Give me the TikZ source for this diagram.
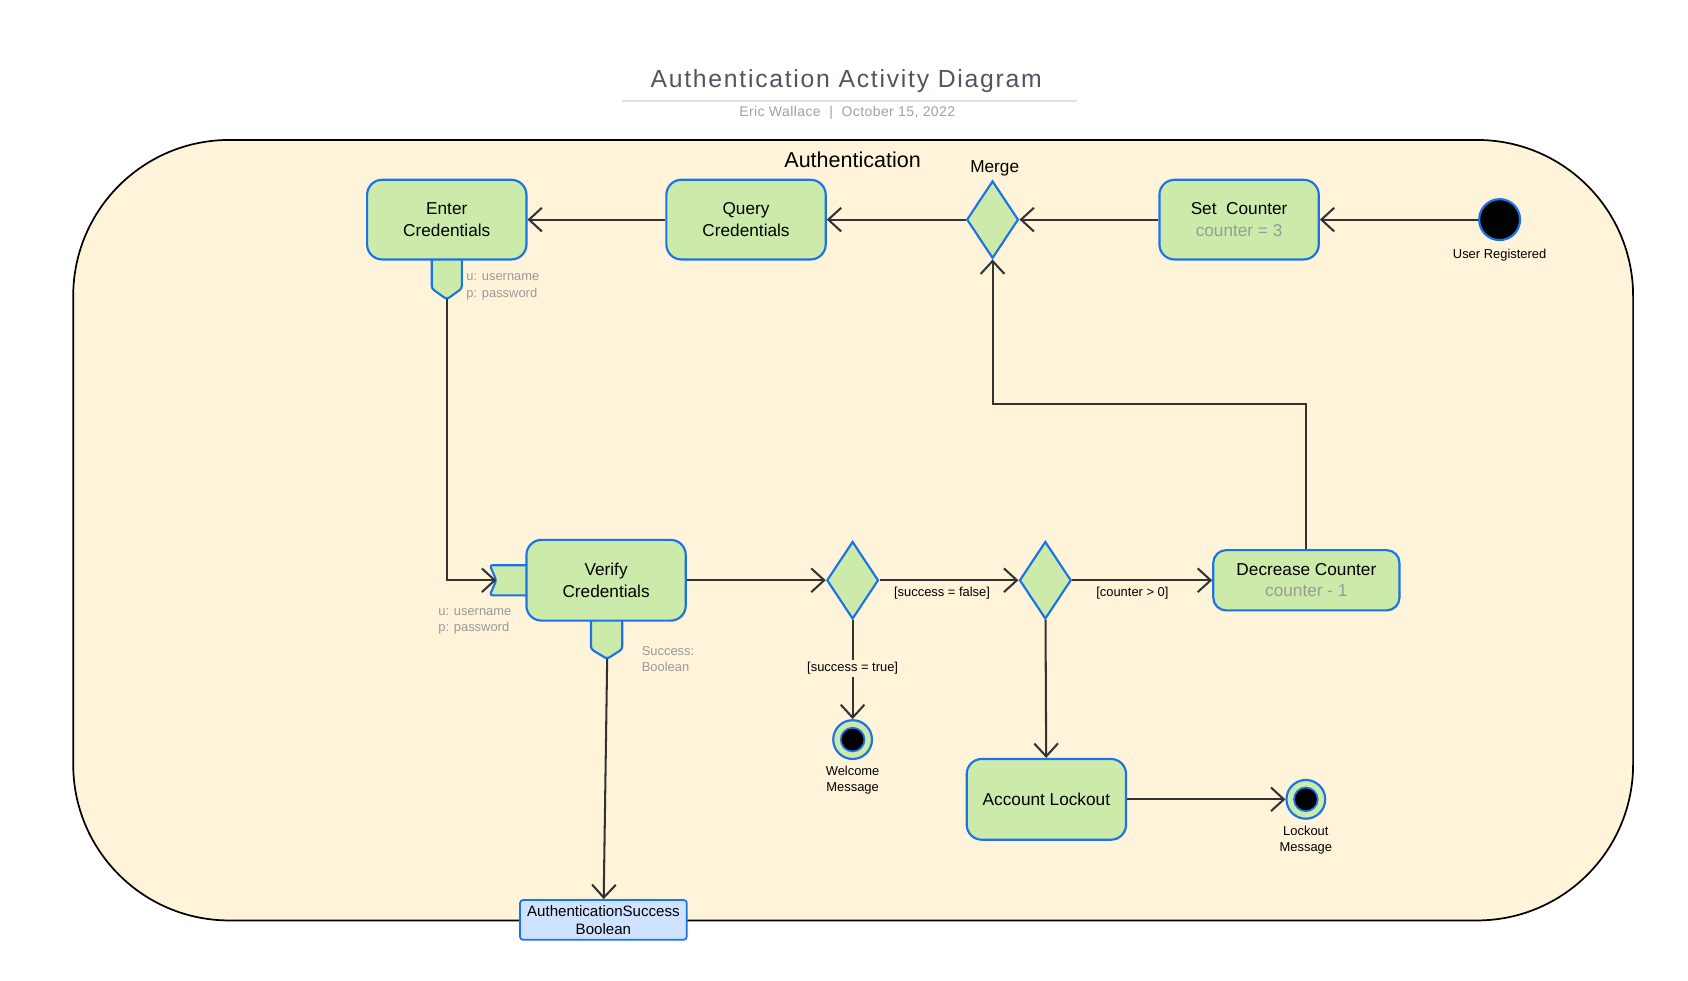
\documentclass[tikz,border=0pt]{standalone}
\usepackage{fontspec}
\setmainfont{Liberation Sans}
\usepackage{xcolor}
\usetikzlibrary{arrows.meta, shapes.geometric, positioning}

\definecolor{areafill}{HTML}{FFF3DA}
\definecolor{actfill}{HTML}{CCEBAA}
\definecolor{actline}{HTML}{1A73E8}
\definecolor{objfill}{HTML}{CFE2FF}
\definecolor{flowline}{HTML}{333333}
\definecolor{pintext}{HTML}{9A9A9A}
\definecolor{titletext}{HTML}{505660}
\definecolor{subtext}{HTML}{A0A0A0}

\tikzset{
    action/.style={draw=actline, fill=actfill, line width=2pt, rounded corners=14pt,
        minimum width=148pt, minimum height=74pt, align=center,
        font=\fontsize{16}{20}\selectfont},
    decision/.style={diamond, draw=actline, fill=actfill, line width=2pt,
        minimum width=48pt, minimum height=72pt, inner sep=0pt},
    pinbox/.style={draw=actline, fill=actfill, line width=2pt, rounded corners=2.5pt},
    startnode/.style={circle, draw=actline, fill=black, line width=2pt, minimum size=38pt, inner sep=0pt},
    endnode/.style={circle, draw=actline, fill=actfill, line width=2pt, minimum size=36pt, inner sep=0pt},
    enddot/.style={circle, draw=actline, fill=black, line width=1.6pt, minimum size=22pt, inner sep=0pt},
    flow/.style={draw=flowline, line width=1.9pt, -{Straight Barb[length=12pt, width=22pt]}},
    smalltext/.style={font=\fontsize{12}{15}\selectfont, align=center, inner sep=1pt},
    pinlabel/.style={font=\fontsize{12}{15}\selectfont, text=pintext, align=left, inner sep=0pt},
    guard/.style={font=\fontsize{12}{15}\selectfont, inner sep=2pt}
}

\begin{document}
\begin{tikzpicture}[x=1pt, y=1pt]
    \useasboundingbox (0, 0) rectangle (1568, -911);

    % heading
    \node[text=titletext, font=\fontsize{23}{27}\selectfont\addfontfeature{LetterSpace=7}] (title) at (786, -75.5) {Authentication Activity Diagram};
    \draw[draw=black!12, line width=1.5pt] (578, -94) -- (1000, -94);
    \node[text=subtext, font=\fontsize{13}{15}\selectfont\addfontfeature{LetterSpace=3}] (subtitle) at (787, -105) {Eric Wallace~~|~~October 15, 2022};

    % activity area
    \draw[fill=areafill, line width=1.6pt, rounded corners=145pt] (68, -130) rectangle (1517, -855);
    \node[font=\fontsize{20}{24}\selectfont] (area) at (792, -148) {Authentication};

    % pins
    \draw[pinbox] (401, -241) -- (401, -268) -- (415, -278) -- (429, -268) -- (429, -241);
    \coordinate (enterpin) at (415, -278);
    \draw[pinbox] (489, -525) -- (455, -525) -- (461, -539) -- (455, -553) -- (489, -553);
    \coordinate (verifyin) at (461, -539);
    \draw[pinbox] (549, -576) -- (549, -603) -- (564, -612) -- (578, -603) -- (578, -576);
    \coordinate (verifyout) at (564, -612);

    \node[pinlabel, anchor=west] (enterpinlbl) at (433, -266.5) {u: username\\p: password};
    \node[pinlabel, anchor=west] (verifyinlbl) at (407, -577.5) {u: username\\p: password};
    \node[pinlabel, anchor=west] (verifyoutlbl) at (596, -612.5) {Success:\\Boolean};

    % actions
    \node[action] (enter) at (415, -204) {Enter\\Credentials};
    \node[action] (query) at (693, -204) {Query\\Credentials};
    \node[action] (setcounter) at (1151, -204) {Set\ \ Counter\\\textcolor{pintext}{counter = 3}};
    \node[action, minimum height=75pt] (verify) at (563, -539) {Verify\\Credentials};
    \node[action, minimum width=173pt, minimum height=56pt, rounded corners=12pt] (decrease) at (1213.5, -539) {Decrease Counter\\\textcolor{pintext}{counter - 1}};
    \node[action, minimum height=75pt] (lockout) at (972, -742.5) {Account Lockout};

    \node[draw=actline, fill=objfill, line width=1.6pt, rounded corners=3pt, minimum width=155pt,
        minimum height=37pt, inner sep=1pt, align=center, font=\fontsize{14}{17}\selectfont] (result) at (560.5, -854.5) {AuthenticationSuccess\\Boolean};

    % control nodes
    \node[decision] (merge) at (922, -204) {};
    \node[font=\fontsize{16}{20}\selectfont] (mergelbl) at (924, -156) {Merge};
    \node[decision] (success) at (792, -539) {};
    \node[decision] (counter) at (971, -539) {};

    \node[startnode] (start) at (1393, -204) {};
    \node[smalltext, below=6pt of start] (startlbl) {User Registered};

    \node[endnode] (welcome) at (792, -687) {};
    \node[enddot] (welcomedot) at (welcome) {};
    \node[smalltext, below=4pt of welcome] (welcomelbl) {Welcome\\Message};

    \node[endnode] (lockmsg) at (1213, -742.5) {};
    \node[enddot] (lockmsgdot) at (lockmsg) {};
    \node[smalltext, below=5pt of lockmsg] (lockmsglbl) {Lockout\\Message};

    \coordinate (retry) at (1213.5, -375);

    % flows
    \draw[flow] (start) -- (setcounter);
    \draw[flow] (setcounter) -- (merge);
    \draw[flow] (merge) -- (query);
    \draw[flow] (query) -- (enter);
    \draw[flow] (enterpin) |- (verifyin);
    \draw[flow] (verify) -- (success);
    \draw[flow] (success) -- node[guard, below, pos=0.45, yshift=-3pt] {[success = false]} (counter);
    \draw[flow] (counter) -- node[guard, below, pos=0.43, yshift=-3pt] {[counter > 0]} (decrease);
    \draw[flow] (decrease.north) -- (retry) -| (merge.south);
    \draw[flow] (success) -- node[guard, fill=areafill, pos=0.49] {[success = true]} (welcome);
    \draw[flow] (counter) -- (lockout);
    \draw[flow] (lockout) -- (lockmsg);
    \draw[flow] (verifyout) -- (result);
\end{tikzpicture}
\end{document}
